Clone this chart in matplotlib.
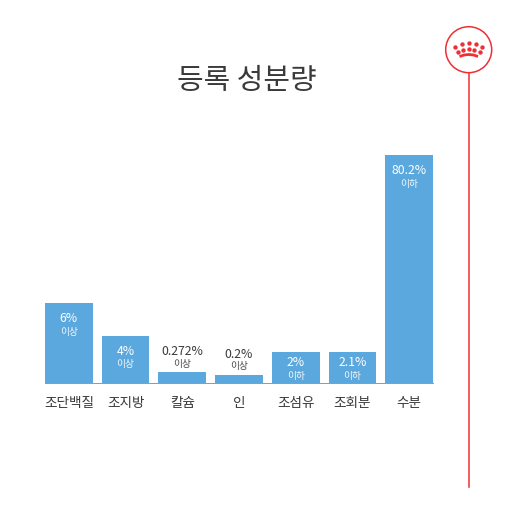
import matplotlib.pyplot as plt
from matplotlib.patches import Circle

plt.rcParams["font.family"] = ["Noto Sans CJK KR", "DejaVu Sans"]

BLUE = "#5BA8DE"
RED = "#EE2F36"
TEXT = "#3A3A3A"

categories = ["조단백질", "조지방", "칼슘", "인", "조섬유", "조회분", "수분"]
# drawn heights in the picture are not proportional to the printed amounts
bar_heights = [80, 47, 11, 8, 31, 31, 228]
amounts = ["6%", "4%", "0.272%", "0.2%", "2%", "2.1%", "80.2%"]
limits = ["이상", "이상", "이상", "이상", "이하", "이하", "이하"]
inside = [True, True, False, False, True, True, True]

crown_top_x = [455.0, 462.0, 468.7, 475.7, 482.0]
crown_top_y = [48.3, 45.3, 44.3, 45.3, 48.3]
crown_low_x = [457.7, 463.0, 468.7, 474.3, 479.7]
crown_low_y = [52.7, 50.7, 50.0, 50.7, 52.7]
crown_band_x = [459.5, 464.0, 468.7, 473.5, 478.0]
crown_band_y = [57.5, 56.0, 55.5, 56.0, 57.5]


def draw_badge(fig) -> None:
    """Draw the red crown badge and its long line in pixel coordinates."""
    bg = fig.add_axes([0, 0, 1, 1])
    bg.set_xlim(0, 510)
    bg.set_ylim(510, 0)
    bg.axis("off")
    bg.plot([468.7, 468.7], [74, 488], color=RED, lw=1.1)
    bg.add_patch(Circle((468.7, 50.7), 23, fc="white", ec=RED, lw=1.1))
    bg.scatter(crown_top_x, crown_top_y, s=10, color=RED, lw=0)
    bg.scatter(crown_low_x, crown_low_y, s=10, color=RED, lw=0)
    bg.plot(crown_band_x, crown_band_y, color=RED, lw=2, solid_capstyle="butt")


def draw_bars(fig) -> None:
    """Draw the bars with their amounts, limits and names."""
    ax = fig.add_axes([45 / 510, (510 - 383.5) / 510, 388 / 510, 228 / 510])
    ax.patch.set_alpha(0)
    ax.set_xlim(-0.42, 6.42)
    ax.set_ylim(0, 228)
    for side in ["top", "right", "left"]:
        ax.spines[side].set_visible(False)
    ax.spines["bottom"].set_color(BLUE)
    ax.spines["bottom"].set_linewidth(0.7)
    ax.set_yticks([])

    pos = range(len(categories))
    ax.bar(pos, bar_heights, width=0.84, color=BLUE)
    ax.set_xticks(list(pos), categories, fontsize=9.8, color=TEXT)
    ax.tick_params(axis="x", length=0, pad=9)

    for i in pos:
        if not inside[i]:
            color = TEXT
            y1, y2 = 21, 9
        elif bar_heights[i] < 40:
            color = "white"
            y1, y2 = -10.5, -23
        else:
            color = "white"
            y1, y2 = -15, -28
        ax.annotate(amounts[i], (i, bar_heights[i]), xytext=(0, y1),
                    textcoords="offset pixels", ha="center", va="center",
                    fontsize=8.8, color=color)
        ax.annotate(limits[i], (i, bar_heights[i]), xytext=(0, y2),
                    textcoords="offset pixels", ha="center", va="center",
                    fontsize=7, color=color, alpha=0.9)


def main() -> None:
    fig = plt.figure(figsize=(5.1, 5.1), dpi=100)
    draw_badge(fig)
    draw_bars(fig)
    fig.text(246.5 / 510, 1 - 81 / 510, "등록 성분량", ha="center", va="center",
             fontsize=20.8, color=TEXT)
    fig.savefig("out.png", dpi=100)


if __name__ == "__main__":
    main()
